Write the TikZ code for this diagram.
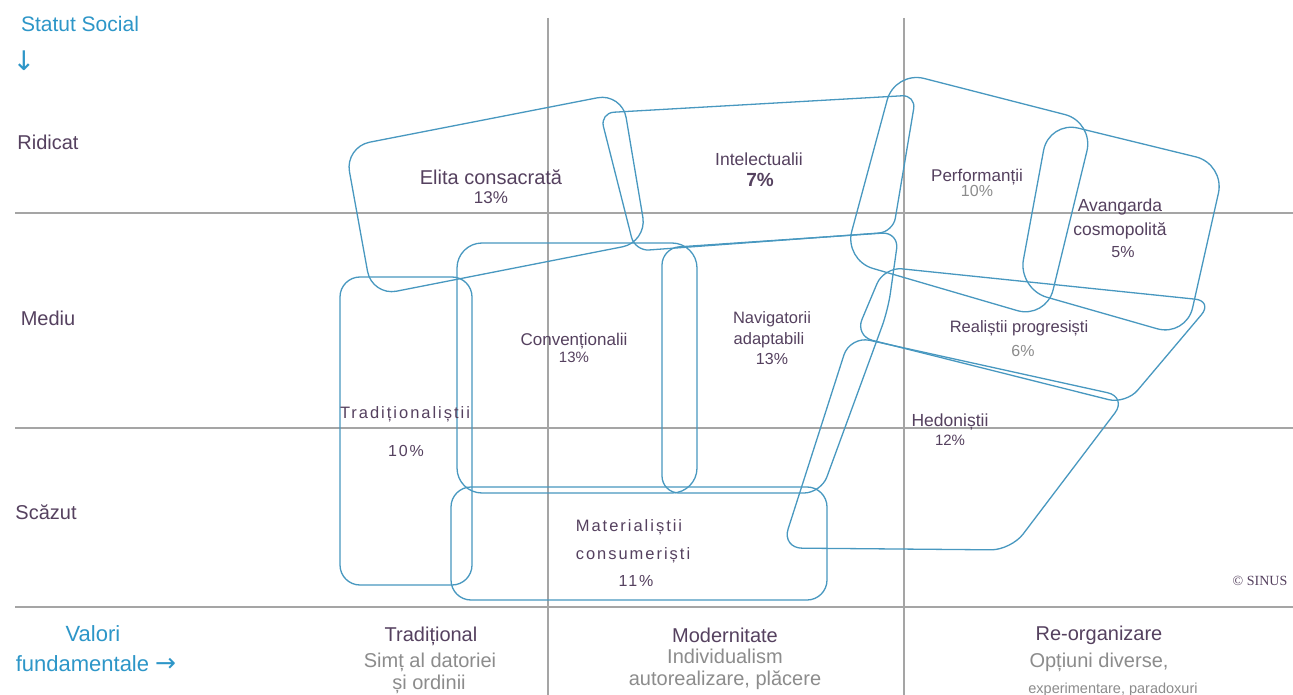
\documentclass[tikz,border=0pt]{standalone}
\usepackage{fontspec}
\setmainfont{Liberation Sans}
\newfontfamily\spacedfont[LetterSpace=12]{Liberation Sans}
\newfontfamily\logofont{Liberation Serif}
\newfontfamily\arrowfont{DejaVu Sans}
\usepackage{tikz}
\usetikzlibrary{positioning}
\usepackage{xcolor}
\definecolor{sinblue}{RGB}{45,150,200}
\definecolor{sinline}{RGB}{72,152,192}
\definecolor{sindark}{RGB}{85,65,95}
\definecolor{singray}{RGB}{140,140,140}
\definecolor{singrid}{RGB}{165,165,165}
\tikzstyle{gridline} = [color=singrid, line width=1.5pt]
\tikzstyle{milieu} = [color=sinline, line width=1.3pt]
\tikzstyle{axistext} = [text=sinblue, inner sep=0pt, anchor=base, font=\fontsize{21}{25}\selectfont]
\tikzstyle{leveltext} = [text=sindark, inner sep=0pt, anchor=base, font=\fontsize{20}{24}\selectfont]
\tikzstyle{valuesub} = [text=singray, inner sep=0pt, anchor=base, font=\fontsize{20}{24}\selectfont]
\tikzstyle{milieutext} = [text=sindark, inner sep=0pt, anchor=base, font=\fontsize{17}{20}\selectfont]
\tikzstyle{spacedtext} = [text=sindark, inner sep=0pt, anchor=base, font=\spacedfont\fontsize{16.5}{20}\selectfont]
\tikzstyle{share} = [text=sindark, inner sep=0pt, anchor=base, font=\fontsize{16}{19}\selectfont]

\begin{document}
\begin{tikzpicture}[x=1pt, y=-1pt]
\fill[white] (0,0) rectangle (1293,695);
\useasboundingbox (0,0) rectangle (1293,695);

% Grid
\draw[gridline] (15,213) -- (1293,213);
\draw[gridline] (15,428) -- (1293,428);
\draw[gridline, line width=2.2pt] (15,607) -- (1293,607);
\draw[gridline] (548,18) -- (548,695);
\draw[gridline] (904,18) -- (904,695);

% Milieus
\draw[milieu, rounded corners=25pt] (345,147) -- (622,93) -- (647,242) -- (372,296) -- cycle;
\draw[milieu, rounded corners=14pt] (600,113) -- (916,95) -- (893,232) -- (635,251) -- cycle;
\draw[milieu, rounded corners=30pt] (895,71) -- (1094,122) -- (1046,319) -- (844,260) -- cycle;
\draw[milieu, rounded corners=30pt] (1049,121) -- (1225,164) -- (1186,337) -- (1018,289) -- cycle;
\draw[milieu, rounded corners=18pt] (884,267) -- (1213,301) -- (1126,404) -- (855,336) -- cycle;
\draw[milieu, rounded corners=20pt] (850,336) -- (1127,397) -- (1011,550) -- (782,548) -- cycle;
\draw[milieu, rounded corners=20pt] (340,277) rectangle (472,585);
\draw[milieu, rounded corners=25pt] (457,243) rectangle (697,493);
\draw[milieu, rounded corners=17pt] (662,248) -- (899,232) -- (888,310) -- (821,493) -- (662,493) -- cycle;
\draw[milieu, rounded corners=20pt] (451,487) rectangle (827,600);

% Axis labels
\node[axistext] (statut) at (80,32) {Statut Social};
\node[axistext, font=\arrowfont\fontsize{27}{30}\selectfont] (statutarrow) at (24,71) {↓};
\node[leveltext] (ridicat) at (48,150) {Ridicat};
\node[leveltext] (mediu) at (48,325) {Mediu};
\node[leveltext] (scazut) at (46,519) {Scăzut};
\node[axistext, font=\fontsize{22}{26}\selectfont] (valori) at (93,641) {Valori};
\node[axistext, font=\fontsize{22}{26}\selectfont] (fundamentale) at (96,671) {fundamentale {\arrowfont\fontsize{25}{28}\selectfont →}};

\node[leveltext] (traditional) at (431,641) {Tradițional};
\node[valuesub] (traditionala) at (430,667) {Simț al datoriei};
\node[valuesub] (traditionalb) at (429,689) {și ordinii};
\node[leveltext] (modernitate) at (725,642) {Modernitate};
\node[valuesub] (modernitatea) at (725,663) {Individualism};
\node[valuesub] (modernitateb) at (725,685) {autorealizare, plăcere};
\node[leveltext] (reorganizare) at (1099,640) {Re-organizare};
\node[valuesub] (reorganizarea) at (1099,667) {Opțiuni diverse,};
\node[valuesub, font=\fontsize{14.5}{17}\selectfont] (reorganizareb) at (1113,693) {experimentare, paradoxuri};

% Milieu labels
\node[milieutext, font=\fontsize{20}{24}\selectfont] (elita) at (491,185) {Elita consacrată};
\node[share, font=\fontsize{17}{20}\selectfont] (elitap) at (491,204) {13\%};
\node[milieutext, font=\fontsize{17.5}{21}\selectfont] (intelectualii) at (759,166) {Intelectualii};
\node[share, font=\bfseries\fontsize{19}{22}\selectfont] (intelectualiip) at (760,187) {7\%};
\node[milieutext] (performantii) at (977,182) {Performanții};
\node[share, text=singray] (performantiip) at (977,197) {10\%};
\node[milieutext, font=\fontsize{17.5}{21}\selectfont] (avangarda) at (1120,212) {Avangarda};
\node[milieutext, font=\fontsize{17.5}{21}\selectfont] (avangardab) at (1120,236) {cosmopolită};
\node[share] (avangardap) at (1123,258) {5\%};
\node[milieutext, font=\fontsize{16.5}{20}\selectfont] (realistii) at (1019,332) {Realiștii progresiști};
\node[share, text=singray] (realistiip) at (1023,356) {6\%};
\node[milieutext, font=\fontsize{17.5}{21}\selectfont] (hedonistii) at (950,426) {Hedoniștii};
\node[share, font=\fontsize{15}{18}\selectfont] (hedonistiip) at (950,445) {12\%};
\node[milieutext] (conventionalii) at (574,345) {Convenționalii};
\node[share, font=\fontsize{15}{18}\selectfont] (conventionaliip) at (574,362) {13\%};
\node[milieutext, font=\fontsize{16.5}{20}\selectfont] (navigatorii) at (772,323) {Navigatorii};
\node[milieutext, font=\fontsize{16.5}{20}\selectfont] (navigatoriib) at (769,344) {adaptabili};
\node[share] (navigatoriip) at (772,364) {13\%};
\node[spacedtext] (traditionalistii) at (405,418) {Tradiționaliștii};
\node[spacedtext, font=\spacedfont\fontsize{16}{19}\selectfont] (traditionalistiip) at (406,456) {10\%};
\node[spacedtext] (materialistii) at (629,531) {Materialiștii};
\node[spacedtext] (materialistiib) at (633,559) {consumeriști};
\node[spacedtext, font=\spacedfont\fontsize{16}{19}\selectfont] (materialistiip) at (636,586) {11\%};

\node[inner sep=0pt, anchor=base, text=sindark, font=\logofont\fontsize{14}{16}\selectfont] (sinus) at (1260,585) {© SINUS};
\end{tikzpicture}
\end{document}
